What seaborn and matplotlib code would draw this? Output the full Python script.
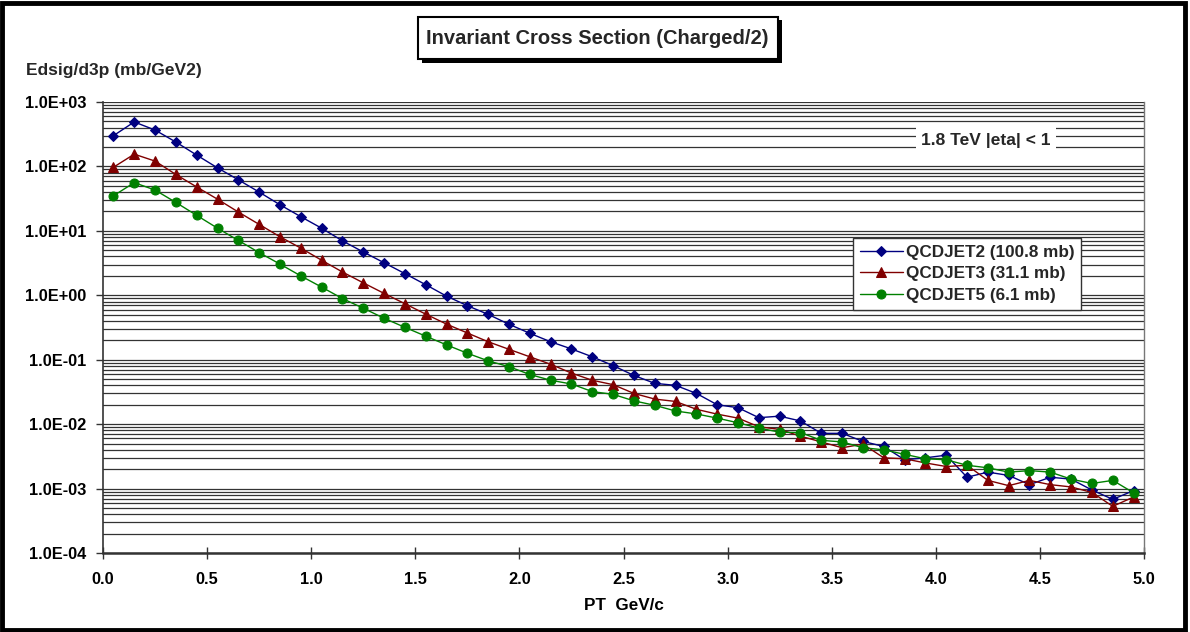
import numpy as np
import pandas as pd
import matplotlib
matplotlib.use("Agg")
import matplotlib.pyplot as plt
from matplotlib.patches import Rectangle
from matplotlib.ticker import FixedLocator, FuncFormatter, NullFormatter
import seaborn as sns

pt = [0.05, 0.15, 0.25, 0.35, 0.45, 0.55, 0.65, 0.75, 0.85, 0.95,
      1.05, 1.15, 1.25, 1.35, 1.45, 1.55, 1.65, 1.75, 1.85, 1.95,
      2.05, 2.15, 2.25, 2.35, 2.45, 2.55, 2.65, 2.75, 2.85, 2.95,
      3.05, 3.15, 3.25, 3.35, 3.45, 3.55, 3.65, 3.75, 3.85, 3.95,
      4.05, 4.15, 4.25, 4.35, 4.45, 4.55, 4.65, 4.75, 4.85, 4.95]

qcdjet2 = [300, 490, 367, 239, 150, 95, 62, 40, 25.4, 16.6,
           11.0, 7.0, 4.7, 3.2, 2.17, 1.46, 0.97, 0.69, 0.505, 0.355,
           0.257, 0.19, 0.147, 0.111, 0.081, 0.057, 0.043, 0.040, 0.030, 0.020,
           0.018, 0.0126, 0.0133, 0.0112, 0.0072, 0.0072, 0.0054, 0.0045, 0.0028, 0.0030,
           0.0033, 0.0015, 0.0018, 0.0016, 0.00115, 0.0015, 0.0014, 0.00095, 0.00068, 0.00093]

qcdjet3 = [97, 155, 121, 75, 48, 31, 19.6, 12.6, 8.1, 5.4,
           3.5, 2.3, 1.56, 1.07, 0.74, 0.51, 0.357, 0.26, 0.19, 0.145,
           0.111, 0.085, 0.062, 0.048, 0.041, 0.030, 0.0245, 0.0225, 0.0170, 0.0143,
           0.0124, 0.0091, 0.0083, 0.0065, 0.0053, 0.0043, 0.0049, 0.0030, 0.0029, 0.0025,
           0.0022, 0.0023, 0.00134, 0.00111, 0.00134, 0.00115, 0.00106, 0.00087, 0.00053, 0.00074]

qcdjet5 = [35, 56, 43, 27.6, 17.4, 11.0, 7.1, 4.6, 3.05, 2.0,
           1.34, 0.89, 0.63, 0.44, 0.318, 0.232, 0.17, 0.126, 0.096, 0.078,
           0.059, 0.048, 0.042, 0.032, 0.029, 0.023, 0.0196, 0.0160, 0.0144, 0.0124,
           0.0105, 0.0087, 0.0075, 0.0074, 0.0056, 0.0053, 0.0043, 0.0040, 0.0034, 0.0029,
           0.0028, 0.0023, 0.0021, 0.0018, 0.0019, 0.0018, 0.0014, 0.0012, 0.00134, 0.00086]

series_names = ["QCDJET2 (100.8 mb)", "QCDJET3 (31.1 mb)", "QCDJET5 (6.1 mb)"]
series_values = [qcdjet2, qcdjet3, qcdjet5]
series_colors = ["#000080", "#800000", "#008000"]
series_markers = ["D", "^", "o"]
series_msize = [5.2, 6.8, 6.5]

x_ticks = [0.0, 0.5, 1.0, 1.5, 2.0, 2.5, 3.0, 3.5, 4.0, 4.5, 5.0]
y_ticks = [1e-4, 1e-3, 1e-2, 1e-1, 1e0, 1e1, 1e2, 1e3]

sns.set_theme(style="white")
plt.rcParams["font.family"] = ["Liberation Sans", "DejaVu Sans"]
plt.rcParams["font.weight"] = "bold"

fig = plt.figure(figsize=(11.9, 6.32), dpi=100)
ax = fig.add_axes([103/1190, 1-553/632, (1144-103)/1190, (553-102)/632])

# grid lines (every 1..9 in each decade)
grid_vals = [m * 10.0**e for e in range(-4, 3) for m in range(1, 10)] + [1e3]
for g in grid_vals:
    ax.axhline(g, color="#333333", lw=0.9, zorder=0)

df = pd.DataFrame({"pt": pt * 3,
                   "val": qcdjet2 + qcdjet3 + qcdjet5,
                   "series": sum([[n] * len(pt) for n in series_names], [])})

for name, col, mk, ms in zip(series_names, series_colors, series_markers, series_msize):
    sub = df[df["series"] == name]
    sns.lineplot(data=sub, x="pt", y="val", ax=ax, color=col, lw=1.0,
                 marker=mk, markersize=ms, markeredgecolor=col,
                 markerfacecolor=col, label=name, zorder=3)

ax.set_yscale("log")
ax.set_xlim(0, 5)
ax.set_ylim(1e-4, 1e3)
ax.xaxis.set_major_locator(FixedLocator(x_ticks))
ax.yaxis.set_major_locator(FixedLocator(y_ticks))
ax.yaxis.set_minor_locator(FixedLocator([]))
ax.yaxis.set_minor_formatter(NullFormatter())
ax.yaxis.set_major_formatter(FuncFormatter(lambda v, p: f"{v:.1E}"))
ax.xaxis.set_major_formatter(FuncFormatter(lambda v, p: f"{v:.1f}"))

for lab in ax.get_xticklabels() + ax.get_yticklabels():
    lab.set_fontweight("bold")
    lab.set_fontsize(11.8)
    lab.set_color("black")

ax.tick_params(axis="x", direction="inout", length=9, width=1.0, color="#333333", pad=9, bottom=True)
ax.tick_params(axis="y", direction="out", length=5, width=1.0, color="#333333", pad=7, left=True)

ax.set_xlabel("PT  GeV/c", fontsize=12.3, fontweight="bold", labelpad=8, color="black")
ax.set_ylabel("")

ax.spines["top"].set_visible(False)
ax.spines["left"].set_color("#333333")
ax.spines["left"].set_linewidth(1.2)
ax.spines["bottom"].set_color("#333333")
ax.spines["bottom"].set_linewidth(1.8)
ax.spines["right"].set_color("#777777")
ax.spines["right"].set_linewidth(1.0)

leg = ax.legend(loc="upper left", bbox_to_anchor=((853-103)/1041, (553-238)/451),
                frameon=True, fancybox=False, framealpha=1, edgecolor="#333333",
                fontsize=12.3, handlelength=2.5, handletextpad=0.2,
                borderpad=0.4, labelspacing=0.38, borderaxespad=0)
leg.get_frame().set_linewidth(1.0)
for t in leg.get_texts():
    t.set_fontweight("bold")
leg.set_zorder(5)

ax.text((986-103)/1041, (553-140)/451, "1.8 TeV |eta| < 1", transform=ax.transAxes,
        ha="center", va="center", fontsize=12.5, fontweight="bold",
        bbox=dict(facecolor="white", edgecolor="none", pad=4), zorder=6)

# y-axis title
fig.text(26/1190, 1-70/632, "Edsig/d3p (mb/GeV2)", ha="left", va="center",
         fontsize=12.5, fontweight="bold")

# title box with shadow
fig.patches.append(Rectangle((422/1190, 1-63/632), 360/1190, 43/632,
                             transform=fig.transFigure, facecolor="black",
                             edgecolor="black", lw=0, zorder=1))
fig.patches.append(Rectangle((418/1190, 1-59/632), 360/1190, 42/632,
                             transform=fig.transFigure, facecolor="white",
                             edgecolor="black", lw=1.5, zorder=2))
fig.text(597/1190, 1-39/632, "Invariant Cross Section (Charged/2)", ha="center",
         va="center", fontsize=14.5, fontweight="bold", zorder=3)

# outer border
fig.patches.append(Rectangle((0.002, 0.003), 0.994, 0.993, transform=fig.transFigure,
                             facecolor="none", edgecolor="black", lw=3.5, zorder=10))

fig.savefig("out.png", dpi=100)
